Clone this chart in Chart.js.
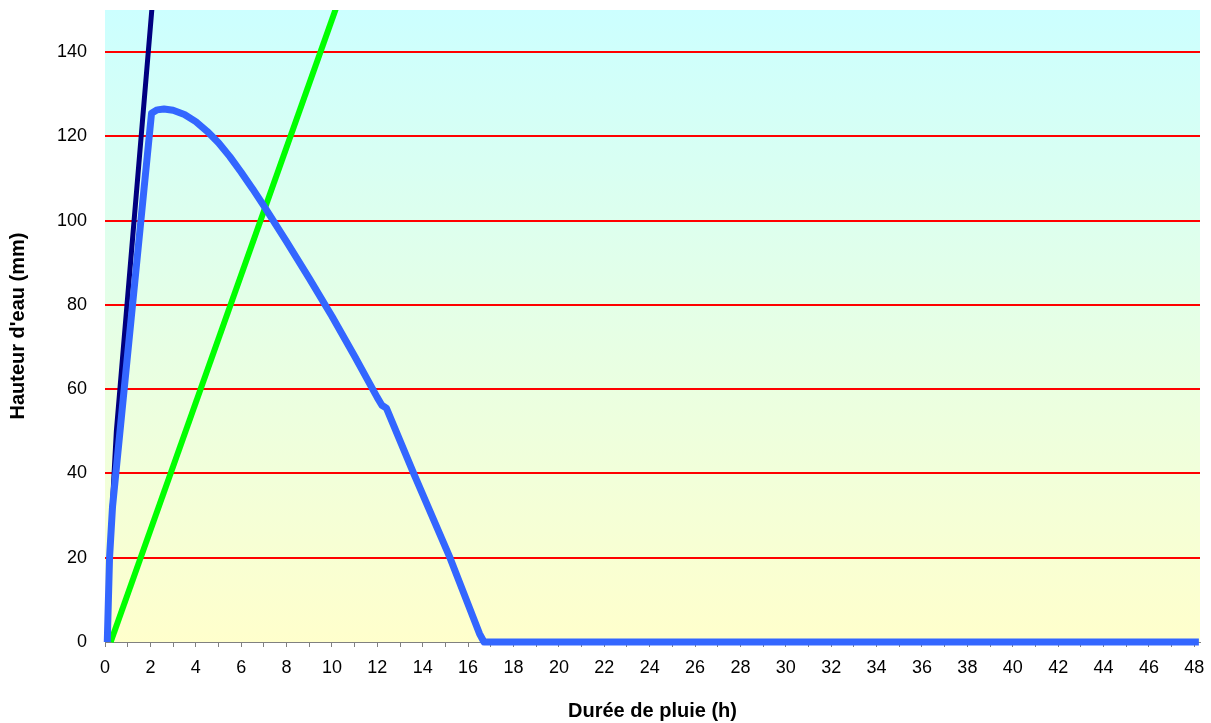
<!DOCTYPE html>
<html>
<head>
<meta charset="utf-8">
<script src="https://cdn.jsdelivr.net/npm/chart.js@4/dist/chart.umd.min.js"></script>
<style>
  body { margin: 0; background: #fff; }
</style>
</head>
<body>
<canvas id="pluieChart" width="1211" height="723"></canvas>
<script>
// courbe bleue (hauteur d'eau stockée)
const blueX = [0.1, 0.2, 0.33, 2.05, 2.3, 2.6, 3, 3.5, 4, 4.5, 5, 5.5, 6, 6.5, 7, 8, 9, 10, 11, 12, 12.2, 12.4, 13.6, 15.2, 16.5, 16.7, 48.2];
const blueY = [0, 20, 32, 125.5, 126.3, 126.5, 126.2, 125.2, 123.5, 121.2, 118.5, 115.2, 111.5, 107.6, 103.5, 95, 86.3, 77.3, 67.8, 58, 56.2, 55.5, 40, 20, 2, 0, 0];

// courbe bleu marine
const navyX = [0.1, 0.2, 0.4, 0.5, 1, 2, 3];
const navyY = [0, 20, 40, 50, 82, 146, 210];

// droite verte
const greenX = [0.25, 12];
const greenY = [0, 178];

const xMax = 48.25;
const yMax = 150;

const toPoints = (xs, ys) => xs.map((x, i) => ({x: x, y: ys[i]}));

const plotBackground = {
  id: "plotBackground",
  beforeDraw(chart) {
    const {ctx, chartArea: a} = chart;
    const g = ctx.createLinearGradient(0, a.top, 0, a.bottom);
    g.addColorStop(0, "#ccffff");
    g.addColorStop(1, "#ffffcc");
    ctx.save();
    ctx.fillStyle = g;
    ctx.fillRect(a.left, a.top, a.right - a.left, a.bottom - a.top);
    ctx.restore();
  }
};

const family = "'Liberation Sans', Arial, sans-serif";
const tickFont = {family: family, size: 18};
const titleFont = {family: family, size: 20, weight: "bold"};
const clip = {left: 5, top: 0, right: 5, bottom: 6};

new Chart(document.getElementById("pluieChart"), {
  type: "line",
  data: {
    datasets: [
      {
        data: toPoints(blueX, blueY),
        borderColor: "#3366ff",
        borderWidth: 7,
        borderJoinStyle: "round",
        clip: clip
      },
      {
        data: toPoints(navyX, navyY),
        borderColor: "#000080",
        borderWidth: 5,
        clip: clip
      },
      {
        data: toPoints(greenX, greenY),
        borderColor: "#00ff00",
        borderWidth: 6,
        clip: clip
      }
    ]
  },
  options: {
    responsive: false,
    animation: false,
    layout: {padding: {left: 0, top: 10, right: 11, bottom: 0}},
    elements: {point: {radius: 0}, line: {tension: 0}},
    plugins: {legend: {display: false}, tooltip: {enabled: false}},
    scales: {
      x: {
        type: "linear",
        min: 0,
        max: xMax,
        afterBuildTicks: (s) => { s.ticks = s.ticks.filter(t => Number.isInteger(t.value) && t.value <= 48); },
        afterFit: (s) => { s.height = 81; s.paddingLeft = 0; s.paddingRight = 0; },
        ticks: {
          stepSize: 1,
          includeBounds: false,
          autoSkip: false,
          maxRotation: 0,
          padding: 10,
          color: "#000",
          font: tickFont,
          callback: (v) => (v % 2 === 0 ? String(v) : "")
        },
        grid: {drawOnChartArea: false, tickLength: 5, color: "#808080"},
        border: {color: "#808080"},
        title: {
          display: true,
          text: "Durée de pluie (h)",
          color: "#000",
          font: titleFont,
          padding: {top: 0, bottom: 0}
        }
      },
      y: {
        min: 0,
        max: yMax,
        afterBuildTicks: (s) => { s.ticks = s.ticks.filter(t => t.value % 20 === 0); },
        afterFit: (s) => { s.width = 105; s.paddingTop = 0; s.paddingBottom = 0; },
        ticks: {stepSize: 20, includeBounds: false, padding: 18, color: "#000", font: tickFont},
        grid: {
          drawTicks: false,
          lineWidth: 2,
          color: (c) => (c.tick && c.tick.value === 0 ? "rgba(0,0,0,0)" : "#ff0000")
        },
        border: {display: false},
        title: {
          display: true,
          text: "Hauteur d'eau (mm)",
          color: "#000",
          font: titleFont,
          padding: {top: 6, bottom: 0}
        }
      }
    }
  },
  plugins: [plotBackground]
});
</script>
</body>
</html>
